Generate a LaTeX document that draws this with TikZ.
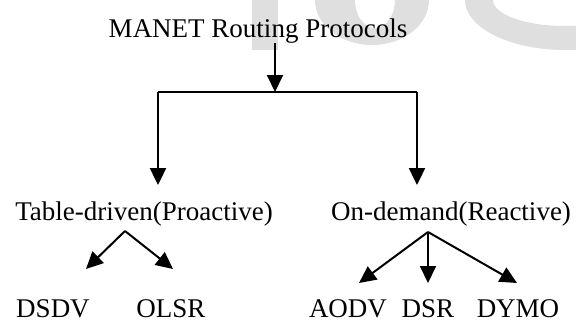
\documentclass[tikz,border=0pt]{standalone}
\usepackage{fontspec}
\setmainfont{Liberation Serif}
\usetikzlibrary{arrows.meta}

\begin{document}
\begin{tikzpicture}[x=1pt,y=-1pt,
  lbl/.style={inner sep=0pt,anchor=base,font=\fontsize{27}{32}\selectfont},
  edge/.style={line width=2pt},
  arr/.style={edge,-{Triangle[length=17pt,width=16pt]}},
  wmark/.style={fill=gray!25}]
\useasboundingbox (0,0) rectangle (576,324);
% faint watermark behind the tree
\begin{scope}
\clip (0,0) rectangle (576,324);
\fill[wmark] (252,0) rectangle (278,50);
\fill[wmark,even odd rule] (372,0) ellipse[x radius=57,y radius=45] (375,0) ellipse[x radius=20,y radius=28];
\fill[wmark,even odd rule] (565,0) ellipse[x radius=100,y radius=50] (565,0) ellipse[x radius=72,y radius=26];
\end{scope}
% labels
\node[lbl] (manet) at (258,37) {MANET Routing Protocols};
\node[lbl] (tbl) at (144,220) {Table-driven(Proactive)};
\node[lbl] (rct) at (451,220) {On-demand(Reactive)};
\node[lbl] (dsdv) at (53,317) {DSDV};
\node[lbl] (olsr) at (171,317) {OLSR};
\node[lbl] (aodv) at (348,317) {AODV};
\node[lbl] (dsr) at (428,317) {DSR};
\node[lbl] (dymo) at (518,317) {DYMO};
% split into the two families
\coordinate (split) at (275,92);
\coordinate (barL) at (158,92);
\coordinate (barR) at (417,92);
\draw[arr] (manet.south -| split) -- (split);
\draw[edge] (barL) -- (barR);
\draw[arr,shorten >=16pt] (barL) -- (barL |- tbl.north);
\draw[arr,shorten >=16pt] (barR) -- (barR |- rct.north);
% proactive
\coordinate (tblFork) at (125,231);
\coordinate (dsdvTip) at (86,269);
\coordinate (olsrTip) at (173,269);
\draw[arr] (tblFork) -- (dsdvTip);
\draw[arr] (tblFork) -- (olsrTip);
% reactive
\coordinate (rctFork) at (428,232);
\coordinate (aodvTip) at (359,283);
\coordinate (dsrTip) at (428,283);
\coordinate (dymoTip) at (517,283);
\draw[arr] (rctFork) -- (aodvTip);
\draw[arr] (rctFork) -- (dsrTip);
\draw[arr] (rctFork) -- (dymoTip);
\end{tikzpicture}
\end{document}
